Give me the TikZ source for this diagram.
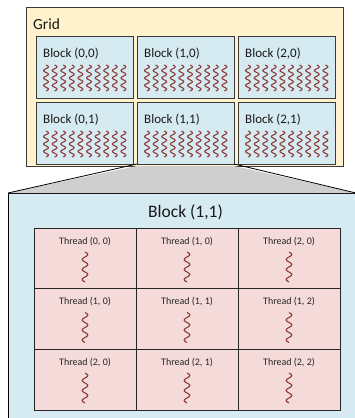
\documentclass[tikz,border=0pt]{standalone}
\usepackage{fontspec}
\setmainfont{Carlito}
\definecolor{gridfill}{HTML}{FFF2CC}
\definecolor{blockfill}{HTML}{D6EBF1}
\definecolor{threadfill}{HTML}{F4DAD8}
\definecolor{squigcol}{HTML}{8E3B37}
\definecolor{trapfill}{HTML}{CFCFCF}
\definecolor{edge}{HTML}{3A3A3A}
\begin{document}
\begin{tikzpicture}[x=1pt,y=-1pt,
  box/.style={draw=edge, line width=0.8pt, inner sep=0pt, outer sep=0pt, anchor=north west},
  blockbox/.style={box, fill=blockfill, minimum width=97pt, minimum height=62pt},
  cellbox/.style={box, draw=black!85, fill=threadfill, minimum width=102pt, minimum height=61pt},
  bsquig/.pic={\draw[squigcol, line width=1.1pt] plot[domain=0:26, samples=70, smooth] ({2.4*sin(\x/26*3.5*360)}, {\x});},
  tsquig/.pic={\draw[squigcol, line width=1.1pt] plot[domain=0:30, samples=70, smooth] ({2.8*sin(\x/30*3*360)}, {\x});},
  blabel/.style={anchor=base west, inner sep=0pt, font=\fontsize{13}{15}\selectfont, text=black!90},
  tlabel/.style={anchor=base, inner sep=0pt, font=\fontsize{10}{12}\selectfont, text=black!85}
]
\useasboundingbox (0,0) rectangle (355,418);
\clip (0,0) rectangle (355,418);

% big block box
\node[box, draw=black, fill=blockfill, minimum width=350pt, minimum height=230pt] (big) at (8,193) {};

% grid
\node[box, fill=gridfill, minimum width=317pt, minimum height=159pt] (grid) at (26,7) {};
\node[anchor=base west, inner sep=0pt, font=\fontsize{15.5}{18}\selectfont, text=black!90] (gridlabel) at (33,29.5) {Grid};

% trapezoid fill below grid
\fill[trapfill] (137,166) -- (8,193) -- (356,193) -- (234,166) -- cycle;

\foreach \c/\cx in {0/36,1/137,2/238}{
  \foreach \r/\ry in {0/36,1/102}{
    \node[blockbox] (b\c\r) at (\cx,\ry) {};
    \node[blabel] (bl\c\r) at (\cx+7,\ry+21) {Block (\c,\r)};
    \foreach \k in {0,...,9}{
      \pic at (\cx+10+8.6*\k,\ry+29) {bsquig};
    }
  }
}

% connector sides of the zoom trapezoid
\coordinate (bigNE) at (356,193);
\draw[black, line width=0.8pt] (b11.south west) -- (big.north west);
\draw[black, line width=0.8pt] (b11.south east) -- (bigNE);

\node[anchor=base, inner sep=0pt, font=\fontsize{17.5}{20}\selectfont, text=black!90] (title) at (185.5,217) {Block (1,1)};

% threads
\foreach \i/\cx/\lab in {0/34/{(0, 0)},1/136/{(1, 0)},2/238/{(2, 0)}}{
  \node[cellbox] (ta\i) at (\cx,228) {};
  \node[tlabel] at (\cx+51,244) {Thread \lab};
  \pic at (\cx+51,252) {tsquig};
}
\foreach \i/\cx/\lab in {0/34/{(1, 0)},1/136/{(1, 1)},2/238/{(1, 2)}}{
  \node[cellbox] (tb\i) at (\cx,288.5) {};
  \node[tlabel] at (\cx+51,304.5) {Thread \lab};
  \pic at (\cx+51,312.5) {tsquig};
}
\foreach \i/\cx/\lab in {0/34/{(2, 0)},1/136/{(2, 1)},2/238/{(2, 2)}}{
  \node[cellbox] (tc\i) at (\cx,349) {};
  \node[tlabel] at (\cx+51,365) {Thread \lab};
  \pic at (\cx+51,373) {tsquig};
}
\end{tikzpicture}
\end{document}
